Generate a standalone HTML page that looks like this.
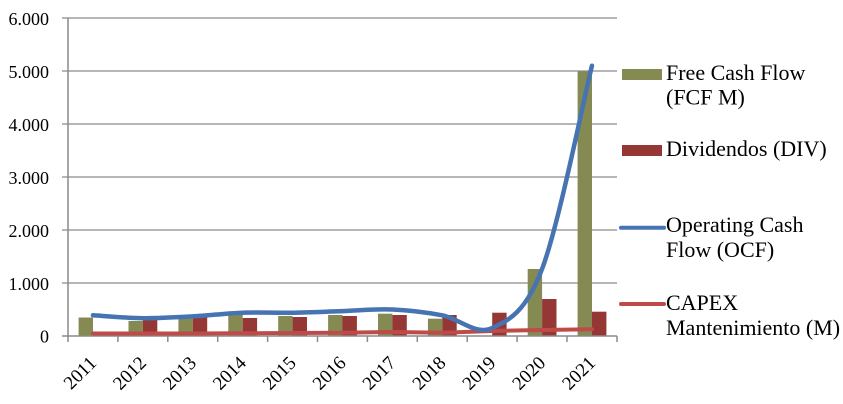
<!DOCTYPE html>
<html>
<head>
<meta charset="utf-8">
<style>
  html, body { margin: 0; padding: 0; background: #ffffff; }
  svg { display: block; }
  text { font-family: "Liberation Serif", "DejaVu Serif", serif; fill: #000; }
</style>
</head>
<body>
<svg width="843" height="404" viewBox="0 0 843 404" xmlns="http://www.w3.org/2000/svg">
  <!-- gridlines -->
  <g stroke="#8a8a8a" stroke-width="1.2">
    <line x1="62" y1="18" x2="617" y2="18"/>
    <line x1="62" y1="71" x2="617" y2="71"/>
    <line x1="62" y1="124" x2="617" y2="124"/>
    <line x1="62" y1="177" x2="617" y2="177"/>
    <line x1="62" y1="230" x2="617" y2="230"/>
    <line x1="62" y1="283" x2="617" y2="283"/>
  </g>
  <!-- y labels -->
  <g font-size="18" text-anchor="end">
    <text x="49" y="25">6.000</text>
    <text x="49" y="78">5.000</text>
    <text x="49" y="131">4.000</text>
    <text x="49" y="184">3.000</text>
    <text x="49" y="237">2.000</text>
    <text x="49" y="290">1.000</text>
    <text x="49" y="342.5">0</text>
  </g>
  <!-- bars: FCF (green) -->
  <g fill="#848A52">
    <rect x="78.6" y="317.5" width="14.4" height="18.5"/>
    <rect x="128.5" y="321" width="14.4" height="15"/>
    <rect x="178.4" y="318" width="14.4" height="18"/>
    <rect x="228.3" y="315" width="14.4" height="21"/>
    <rect x="278.2" y="316" width="14.4" height="20"/>
    <rect x="328.1" y="315" width="14.4" height="21"/>
    <rect x="378.0" y="313.7" width="14.4" height="22.3"/>
    <rect x="427.9" y="318.7" width="14.4" height="17.3"/>
    <rect x="527.7" y="269" width="14.4" height="67"/>
    <rect x="577.6" y="71.5" width="14.4" height="264.5"/>
  </g>
  <!-- bars: DIV (red) -->
  <g fill="#953735">
    <rect x="93" y="333.5" width="14.4" height="2.5"/>
    <rect x="142.9" y="320" width="14.4" height="16"/>
    <rect x="192.8" y="317" width="14.4" height="19"/>
    <rect x="242.7" y="318" width="14.4" height="18"/>
    <rect x="292.6" y="317" width="14.4" height="19"/>
    <rect x="342.5" y="316" width="14.4" height="20"/>
    <rect x="392.4" y="315" width="14.4" height="21"/>
    <rect x="442.3" y="315" width="14.4" height="21"/>
    <rect x="492.2" y="312.7" width="14.4" height="23.3"/>
    <rect x="542.1" y="299" width="14.4" height="37"/>
    <rect x="592.0" y="311.7" width="14.4" height="24.3"/>
  </g>
  <!-- axes -->
  <g stroke="#8a8a8a" stroke-width="1.5">
    <line x1="68" y1="18" x2="68" y2="336"/>
    <line x1="62" y1="336" x2="617" y2="336"/>
    <line x1="68" y1="336" x2="68" y2="342"/>
    <line x1="117.9" y1="336" x2="117.9" y2="342"/>
    <line x1="167.8" y1="336" x2="167.8" y2="342"/>
    <line x1="217.7" y1="336" x2="217.7" y2="342"/>
    <line x1="267.6" y1="336" x2="267.6" y2="342"/>
    <line x1="317.5" y1="336" x2="317.5" y2="342"/>
    <line x1="367.4" y1="336" x2="367.4" y2="342"/>
    <line x1="417.3" y1="336" x2="417.3" y2="342"/>
    <line x1="467.2" y1="336" x2="467.2" y2="342"/>
    <line x1="517.1" y1="336" x2="517.1" y2="342"/>
    <line x1="567.0" y1="336" x2="567.0" y2="342"/>
    <line x1="617" y1="336" x2="617" y2="342"/>
  </g>
  <!-- CAPEX line -->
  <polyline fill="none" stroke="#BE4B48" stroke-width="4" stroke-linejoin="round" stroke-linecap="round"
    points="92.95,333.5 142.85,333.5 192.75,333.5 242.65,333.3 292.55,333 342.45,332.8 392.35,332 442.25,332.8 492.15,331 542.05,330 591.95,329.3"/>
  <!-- OCF line -->
  <path fill="none" stroke="#4673B1" stroke-width="4.5" stroke-linecap="round" stroke-linejoin="round"
    d="M92.95,315.3 C101.27,315.78 126.22,318.02 142.85,318.2 C159.48,318.38 176.12,317.32 192.75,316.4 C209.38,315.48 226.02,313.32 242.65,312.7 C259.28,312.08 275.92,312.97 292.55,312.7 C309.18,312.43 325.82,311.63 342.45,311.1 C359.08,310.57 375.72,308.8 392.35,309.5 C408.98,310.2 425.62,312.22 442.25,315.3 C458.88,318.38 475.52,335.72 492.15,328 C508.78,320.28 525.42,312.72 542.05,269 C558.68,225.28 583.63,99.58 591.95,65.7"/>
  <!-- x labels -->
  <g font-size="19" text-anchor="end">
    <text transform="translate(97.5,364) rotate(-45)">2011</text>
    <text transform="translate(147.4,364) rotate(-45)">2012</text>
    <text transform="translate(197.3,364) rotate(-45)">2013</text>
    <text transform="translate(247.2,364) rotate(-45)">2014</text>
    <text transform="translate(297.1,364) rotate(-45)">2015</text>
    <text transform="translate(347.0,364) rotate(-45)">2016</text>
    <text transform="translate(396.9,364) rotate(-45)">2017</text>
    <text transform="translate(446.8,364) rotate(-45)">2018</text>
    <text transform="translate(496.7,364) rotate(-45)">2019</text>
    <text transform="translate(546.6,364) rotate(-45)">2020</text>
    <text transform="translate(596.5,364) rotate(-45)">2021</text>
  </g>
  <!-- legend -->
  <rect x="622" y="69" width="40" height="11" fill="#848A52"/>
  <rect x="622" y="145" width="40" height="11" fill="#953735"/>
  <line x1="621" y1="227.7" x2="664" y2="227.7" stroke="#4673B1" stroke-width="4" stroke-linecap="round"/>
  <line x1="621" y1="304" x2="664" y2="304" stroke="#BE4B48" stroke-width="4" stroke-linecap="round"/>
  <g font-size="22">
    <text x="666" y="80">Free Cash Flow</text>
    <text x="666" y="104.5">(FCF M)</text>
    <text x="666" y="156">Dividendos (DIV)</text>
    <text x="666" y="232">Operating Cash</text>
    <text x="666" y="257">Flow (OCF)</text>
    <text x="666" y="310">CAPEX</text>
    <text x="666" y="335">Mantenimiento (M)</text>
  </g>
</svg>
</body>
</html>
